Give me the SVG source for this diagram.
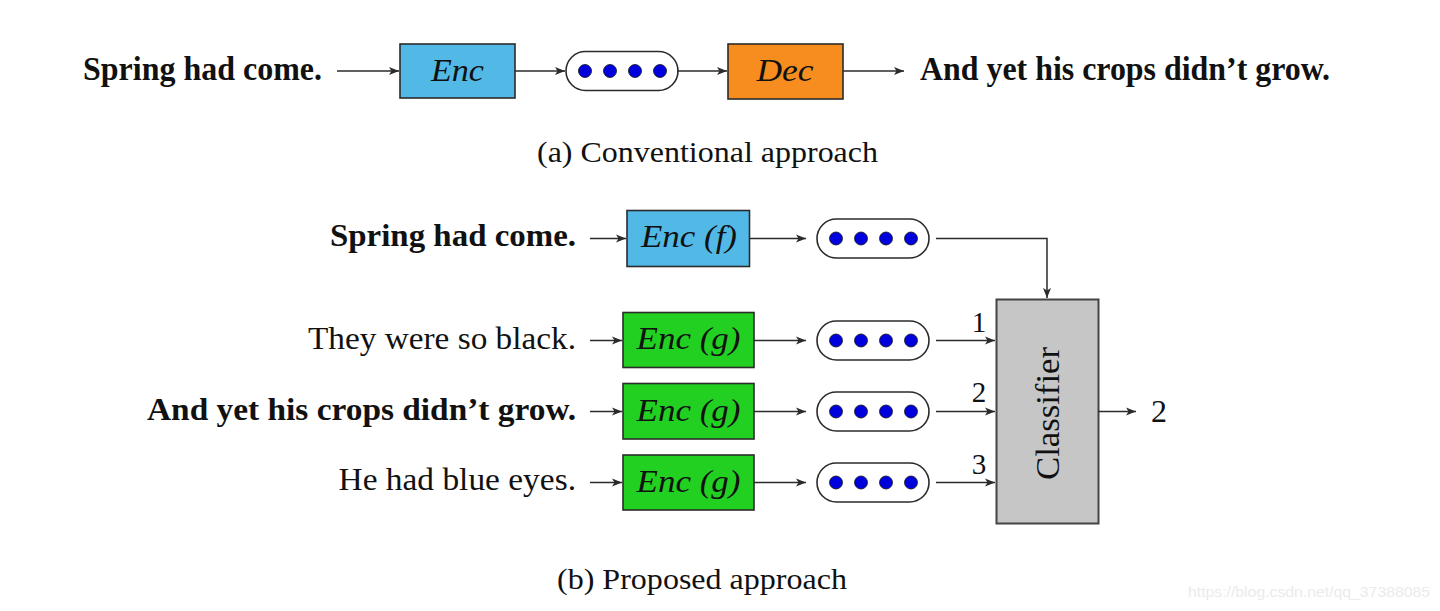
<svg xmlns="http://www.w3.org/2000/svg" width="1440" height="611" viewBox="0 0 1440 611">
<style>
.t{font-family:"Liberation Serif","Times New Roman",serif;fill:#111}
.b{font-weight:bold}
.i{font-style:italic}
.box{stroke:#2b2b2b;stroke-width:1.6}
.blue{fill:#52b9e6}
.orange{fill:#f78c1f}
.green{fill:#22d022}
.pill{fill:#fff;stroke:#2b2b2b;stroke-width:1.6}
.dot{fill:#0000dd;stroke:#111;stroke-width:0.8}
.cn{fill:none;stroke:#2b2b2b;stroke-width:1.5}
</style>
<defs>
<marker id="ah" markerUnits="userSpaceOnUse" markerWidth="11" markerHeight="9" refX="10" refY="4.5" orient="auto">
<path d="M0,0.5 L10,4.5 L0,8.5 L2.5,4.5 z" fill="#2b2b2b"/>
</marker>
<g id="dots">
<rect class="pill" x="0" y="-19.5" width="112" height="39" rx="19.5"/>
<circle class="dot" cx="19" cy="0" r="6.5"/>
<circle class="dot" cx="44" cy="0" r="6.5"/>
<circle class="dot" cx="69" cy="0" r="6.5"/>
<circle class="dot" cx="94" cy="0" r="6.5"/>
</g>
</defs>
<rect width="1440" height="611" fill="#fff"/>

<!-- (a) Conventional approach -->
<g id="a-input"><text class="t b" x="83" y="80" font-size="33" textLength="239" lengthAdjust="spacingAndGlyphs">Spring had come.</text></g>
<g id="a-enc"><rect class="box blue" x="400" y="44" width="115" height="54"/><text class="t i" x="457.5" y="81" font-size="32" text-anchor="middle" textLength="53" lengthAdjust="spacingAndGlyphs">Enc</text></g>
<g id="a-vec"><use href="#dots" x="566" y="71"/></g>
<g id="a-dec"><rect class="box orange" x="728" y="44" width="115" height="55"/><text class="t i" x="785" y="81" font-size="32" text-anchor="middle" textLength="57" lengthAdjust="spacingAndGlyphs">Dec</text></g>
<g id="a-output"><text class="t b" x="920" y="80" font-size="33" textLength="410" lengthAdjust="spacingAndGlyphs">And yet his crops didn’t grow.</text></g>
<g id="a-caption"><text class="t" x="537" y="162" font-size="29" textLength="341" lengthAdjust="spacingAndGlyphs">(a) Conventional approach</text></g>

<!-- (b) Proposed approach -->
<g id="b-s0"><text class="t b" x="330" y="246" font-size="32" textLength="246" lengthAdjust="spacingAndGlyphs">Spring had come.</text></g>
<g id="b-s1"><text class="t" x="308" y="348.5" font-size="32" textLength="268" lengthAdjust="spacingAndGlyphs">They were so black.</text></g>
<g id="b-s2"><text class="t b" x="147" y="419.5" font-size="32" textLength="429" lengthAdjust="spacingAndGlyphs">And yet his crops didn’t grow.</text></g>
<g id="b-s3"><text class="t" x="338.5" y="489.5" font-size="32" textLength="237.5" lengthAdjust="spacingAndGlyphs">He had blue eyes.</text></g>

<g id="b-encf"><rect class="box blue" x="627" y="210.5" width="122.5" height="56"/><text class="t i" x="689" y="247" font-size="31" text-anchor="middle" textLength="96" lengthAdjust="spacingAndGlyphs">Enc (f)</text></g>
<g id="b-encg1"><rect class="box green" x="623" y="312.5" width="131" height="55"/><text class="t i" x="688.5" y="349" font-size="31" text-anchor="middle" textLength="104" lengthAdjust="spacingAndGlyphs">Enc (g)</text></g>
<g id="b-encg2"><rect class="box green" x="623" y="383.5" width="131" height="55.5"/><text class="t i" x="688.5" y="420.5" font-size="31" text-anchor="middle" textLength="104" lengthAdjust="spacingAndGlyphs">Enc (g)</text></g>
<g id="b-encg3"><rect class="box green" x="623" y="455" width="131" height="55"/><text class="t i" x="688.5" y="491.5" font-size="31" text-anchor="middle" textLength="104" lengthAdjust="spacingAndGlyphs">Enc (g)</text></g>

<g id="b-vec0"><use href="#dots" x="817" y="238.5"/></g>
<g id="b-vec1"><use href="#dots" x="817" y="340.5"/></g>
<g id="b-vec2"><use href="#dots" x="817" y="411.5"/></g>
<g id="b-vec3"><use href="#dots" x="817" y="482.5"/></g>

<g id="b-classifier"><rect x="996.5" y="299.5" width="102" height="224" fill="#c6c6c6" stroke="#444" stroke-width="2"/><text class="t" x="0" y="0" font-size="34" text-anchor="middle" textLength="133" lengthAdjust="spacingAndGlyphs" transform="translate(1058.5,413.5) rotate(-90)">Classifier</text></g>
<g id="b-output"><text class="t" x="1159" y="422" font-size="32" text-anchor="middle">2</text></g>

<g id="labels">
<text class="t" x="979" y="332" font-size="29" text-anchor="middle">1</text>
<text class="t" x="979" y="402" font-size="29" text-anchor="middle">2</text>
<text class="t" x="979" y="473.5" font-size="29" text-anchor="middle">3</text>
</g>

<g id="b-caption"><text class="t" x="557" y="588.5" font-size="29" textLength="290" lengthAdjust="spacingAndGlyphs">(b) Proposed approach</text></g>

<g id="connectors">
<path class="cn" marker-end="url(#ah)" d="M337,71 H399"/>
<path class="cn" marker-end="url(#ah)" d="M515,71 H565"/>
<path class="cn" marker-end="url(#ah)" d="M677,71 H727"/>
<path class="cn" marker-end="url(#ah)" d="M843,71 H904"/>

<path class="cn" marker-end="url(#ah)" d="M590,238.5 H626"/>
<path class="cn" marker-end="url(#ah)" d="M749.5,238.5 H806"/>
<path class="cn" marker-end="url(#ah)" d="M936,238.5 H1047 V298"/>

<path class="cn" marker-end="url(#ah)" d="M590,340.5 H622"/>
<path class="cn" marker-end="url(#ah)" d="M590,411.5 H622"/>
<path class="cn" marker-end="url(#ah)" d="M590,482.5 H622"/>

<path class="cn" marker-end="url(#ah)" d="M754,340.5 H806"/>
<path class="cn" marker-end="url(#ah)" d="M754,411.5 H806"/>
<path class="cn" marker-end="url(#ah)" d="M754,482.5 H806"/>

<path class="cn" marker-end="url(#ah)" d="M936,340.5 H995"/>
<path class="cn" marker-end="url(#ah)" d="M936,411.5 H995"/>
<path class="cn" marker-end="url(#ah)" d="M936,482.5 H995"/>

<path class="cn" marker-end="url(#ah)" d="M1098.5,411.5 H1136"/>
</g>

<g id="watermark"><text x="1188" y="597" font-family="'Liberation Sans',Arial,sans-serif" font-size="15" fill="#ebebeb" textLength="242" lengthAdjust="spacingAndGlyphs">https://blog.csdn.net/qq_37388085</text></g>
</svg>
